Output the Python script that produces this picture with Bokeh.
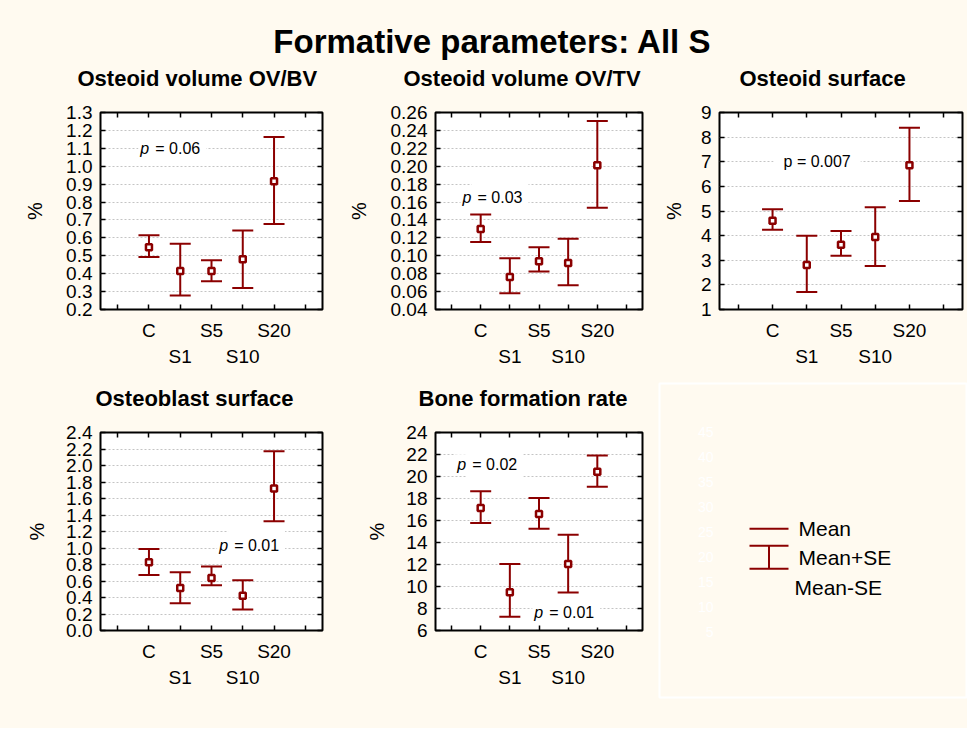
from bokeh.plotting import figure
from bokeh.models import (ColumnDataSource, Whisker, TeeHead, Label, LinearAxis,
                          FixedTicker, NumeralTickFormatter, Range1d)
from bokeh.layouts import column, row
from bokeh.embed import file_html
from bokeh.resources import INLINE
from bokeh.core.properties import value

# ---------------- data ----------------
groups = ["C", "S1", "S5", "S10", "S20"]
group_pos = [1, 2, 3, 4, 5]
frame_ticks_x = [0, 1, 2, 3, 4, 5, 6]

main_title = "Formative parameters: All S"

titles = ["Osteoid volume OV/BV", "Osteoid volume OV/TV", "Osteoid surface",
          "Osteoblast surface", "Bone formation rate"]

ovbv_mean = [0.547, 0.415, 0.415, 0.480, 0.916]
ovbv_upper = [0.614, 0.567, 0.475, 0.641, 1.163]
ovbv_lower = [0.493, 0.278, 0.358, 0.320, 0.677]

ovtv_mean = [0.1298, 0.0764, 0.0938, 0.0919, 0.2010]
ovtv_upper = [0.1461, 0.0971, 0.1094, 0.1190, 0.2504]
ovtv_lower = [0.1153, 0.0582, 0.0823, 0.0671, 0.1535]

os_mean = [4.60, 2.81, 3.63, 3.94, 6.86]
os_upper = [5.07, 4.00, 4.19, 5.15, 8.38]
os_lower = [4.24, 1.71, 3.18, 2.77, 5.41]

obs_mean = [0.827, 0.516, 0.637, 0.420, 1.722]
obs_upper = [0.988, 0.706, 0.775, 0.609, 2.174]
obs_lower = [0.674, 0.331, 0.549, 0.254, 1.323]

bfr_mean = [17.13, 9.48, 16.59, 12.05, 20.43]
bfr_upper = [18.67, 12.05, 18.04, 14.71, 21.91]
bfr_lower = [15.77, 7.24, 15.26, 9.45, 19.07]

yticks_ovbv = [0.2, 0.3, 0.4, 0.5, 0.6, 0.7, 0.8, 0.9, 1.0, 1.1, 1.2, 1.3]
yticks_ovtv = [0.04, 0.06, 0.08, 0.10, 0.12, 0.14, 0.16, 0.18, 0.20, 0.22, 0.24, 0.26]
yticks_os = [1, 2, 3, 4, 5, 6, 7, 8, 9]
yticks_obs = [0.0, 0.2, 0.4, 0.6, 0.8, 1.0, 1.2, 1.4, 1.6, 1.8, 2.0, 2.2, 2.4]
yticks_bfr = [6, 8, 10, 12, 14, 16, 18, 20, 22, 24]

# p-value annotations: (x, y, value text, italic p?)
pvals_ovbv = [(0.66, 1.10, "0.06", True)]
pvals_ovtv = [(0.31, 0.165, "0.03", True)]
pvals_os = [(1.03, 7.0, "0.007", False)]
pvals_obs = [(3.18, 1.03, "0.01", True)]
pvals_bfr = [(0.13, 21.06, "0.02", True), (2.77, 7.6, "0.01", True)]

legend_labels = ["Mean", "Mean+SE", "Mean-SE"]
ghost_ticks = [5, 10, 15, 20, 25, 30, 35, 40, 45]

# ---------------- style ----------------
FONT = "Liberation Sans"
BG = "#FFFAF0"
RED = "#8B0000"


def style_axis(ax):
    ax.axis_line_color = None
    ax.major_tick_in = 5
    ax.major_tick_out = 0
    ax.major_tick_line_color = "black"
    ax.major_tick_line_width = 1.5
    ax.minor_tick_in = 5
    ax.minor_tick_out = 0
    ax.minor_tick_line_color = "black"
    ax.minor_tick_line_width = 1.5
    ax.major_label_text_font = FONT
    ax.major_label_text_font_size = "19px"
    ax.major_label_text_color = "black"


def tick_only_axis(ticks):
    ax = LinearAxis(ticker=FixedTicker(ticks=[], minor_ticks=ticks))
    style_axis(ax)
    ax.major_label_standoff = 0
    return ax


def panel(title, mean, upper, lower, yticks, fmt, pvals, left, fw, right,
          top, fh, bottom, ylab_standoff, title_offset):
    p = figure(frame_width=fw, frame_height=fh,
               min_border_left=left, min_border_right=right,
               min_border_top=top, min_border_bottom=bottom,
               x_range=Range1d(-0.55, 6.55),
               y_range=Range1d(yticks[0], yticks[-1]),
               output_backend="svg", toolbar_location=None,
               x_axis_location=None, y_axis_location="left")
    p.background_fill_color = "white"
    p.border_fill_color = BG
    p.outline_line_color = "black"
    p.outline_line_width = 2
    p.xgrid.visible = False
    p.ygrid.ticker = FixedTicker(ticks=yticks)
    p.ygrid.grid_line_color = "#c4c4c4"
    p.ygrid.grid_line_dash = "2 2"
    p.ygrid.grid_line_width = 1

    p.title.text = title
    p.title.text_font = FONT
    p.title.text_font_size = "22px"
    p.title.text_font_style = "bold"
    p.title.text_color = "black"
    p.title.align = "left"
    p.title.offset = title_offset
    p.title.standoff = 0
    p.title.padding = dict(left=0, right=0, top=0, bottom=22)

    ya = p.yaxis[0]
    ya.ticker = FixedTicker(ticks=yticks)
    ya.formatter = NumeralTickFormatter(format=fmt)
    style_axis(ya)
    ya.major_label_standoff = 8
    ya.axis_label = "%"
    ya.axis_label_text_font = FONT
    ya.axis_label_text_font_size = "20px"
    ya.axis_label_text_font_style = "normal"
    ya.axis_label_text_color = "black"
    ya.axis_label_standoff = ylab_standoff

    p.add_layout(tick_only_axis(yticks), "right")
    p.add_layout(tick_only_axis(frame_ticks_x), "above")

    row1 = [(t, n) for i, (t, n) in enumerate(zip(group_pos, groups)) if i % 2 == 0]
    row2 = [(t, n) for i, (t, n) in enumerate(zip(group_pos, groups)) if i % 2 == 1]
    ax1 = LinearAxis(ticker=FixedTicker(ticks=[t for t, _ in row1],
                                        minor_ticks=[t for t in frame_ticks_x
                                                     if t not in [r[0] for r in row1]]),
                     major_label_overrides={t: n for t, n in row1})
    style_axis(ax1)
    ax1.major_label_standoff = 10
    p.add_layout(ax1, "below")
    ax2 = LinearAxis(ticker=FixedTicker(ticks=[t for t, _ in row2]),
                     major_label_overrides={t: n for t, n in row2})
    style_axis(ax2)
    ax2.major_tick_line_color = None
    ax2.minor_tick_line_color = None
    ax2.major_label_standoff = 2
    p.add_layout(ax2, "below")

    src = ColumnDataSource(dict(x=group_pos, mean=mean, upper=upper, lower=lower))
    p.add_layout(Whisker(source=src, base="x", upper="upper", lower="lower",
                         line_color=RED, line_width=2,
                         upper_head=TeeHead(size=21, line_color=RED, line_width=2),
                         lower_head=TeeHead(size=21, line_color=RED, line_width=2)))
    p.scatter("x", "mean", source=src, marker="square", size=6,
              fill_color="white", line_color=RED, line_width=2.5)

    for (x, y, txt, italic) in pvals:
        if italic:
            p.add_layout(Label(x=x, y=y, x_offset=11, text="= " + txt,
                               text_font=FONT, text_font_size="16px",
                               text_color="black",
                               text_baseline="middle", text_align="left",
                               background_fill_color="white", padding=6))
            p.add_layout(Label(x=x, y=y, text="p", text_font=FONT,
                               text_font_size="16px", text_font_style="italic",
                               text_color="black",
                               text_baseline="middle", text_align="left",
                               background_fill_color="white", padding=2))
        else:
            p.add_layout(Label(x=x, y=y, text="p = " + txt, text_font=FONT,
                               text_font_size="16px", text_baseline="middle",
                               text_color="black",
                               text_align="left", background_fill_color="white",
                               padding=10))
    return p


# ---------------- title ----------------
tfig = figure(title=None, frame_width=967, frame_height=61, x_range=Range1d(0, 967),
              y_range=Range1d(0, 61), output_backend="svg", toolbar_location=None,
              x_axis_location=None, y_axis_location=None, min_border=0)
tfig.grid.visible = False
tfig.outline_line_color = None
tfig.background_fill_color = BG
tfig.border_fill_color = BG
tfig.add_layout(Label(x=492, y=20, text=main_title, text_font=FONT,
                      text_font_size="33px", text_font_style="bold",
                      text_color="black",
                      text_align="center", text_baseline="middle"))

# ---------------- panels ----------------
f1 = panel(titles[0], ovbv_mean, ovbv_upper, ovbv_lower, yticks_ovbv, "0.0",
           pvals_ovbv, 100, 222, 11, 51, 197, 61, 17, -23)
f2 = panel(titles[1], ovtv_mean, ovtv_upper, ovtv_lower, yticks_ovtv, "0.00",
           pvals_ovtv, 102, 207, 16, 51, 197, 61, 18, -32)
f3 = panel(titles[2], os_mean, os_upper, os_lower, yticks_os, "0",
           pvals_os, 61, 243, 5, 51, 197, 61, 13, 20)
f4 = panel(titles[3], obs_mean, obs_upper, obs_lower, yticks_obs, "0.0",
           pvals_obs, 100, 222, 11, 62, 198, 98, 15, -5)
f5 = panel(titles[4], bfr_mean, bfr_upper, bfr_lower, yticks_bfr, "0",
           pvals_bfr, 102, 207, 16, 62, 198, 98, 15, -17)

# ---------------- legend panel (blank box with faint scale) ----------------
leg = figure(title=None, frame_width=307, frame_height=314, min_border_left=1,
             min_border_right=1, min_border_top=13, min_border_bottom=31,
             x_range=Range1d(0, 307), y_range=Range1d(-8.06, 54.74),
             output_backend="svg", toolbar_location=None,
             x_axis_location=None, y_axis_location=None)
leg.grid.visible = False
leg.background_fill_color = BG
leg.border_fill_color = BG
leg.outline_line_color = "white"
leg.outline_line_width = 2
leg.text(x=[54] * len(ghost_ticks), y=ghost_ticks, text=[str(t) for t in ghost_ticks],
         text_font=value(FONT), text_font_size="14px", text_color="white",
         text_align="right", text_baseline="middle")
# legend key: mean line
leg.segment(x0=[90], y0=[25.7], x1=[129], y1=[25.7], line_color=RED, line_width=2)
# legend key: SE whisker
wsrc = ColumnDataSource(dict(x=[109.5], upper=[22.3], lower=[17.7]))
leg.add_layout(Whisker(source=wsrc, base="x", upper="upper", lower="lower",
                       line_color=RED, line_width=2,
                       upper_head=TeeHead(size=39, line_color=RED, line_width=2),
                       lower_head=TeeHead(size=39, line_color=RED, line_width=2)))
leg.text(x=[139, 139, 135], y=[25.7, 19.9, 13.9], text=legend_labels,
         text_font=value(FONT), text_font_size="21px", text_color="black",
         text_align="left", text_baseline="middle")

layout = column(tfig, row(f1, f2, f3), row(f4, f5, column(leg)))
layout.styles = {"background-color": BG}

open("out.html", "w").write(file_html(layout, INLINE))
